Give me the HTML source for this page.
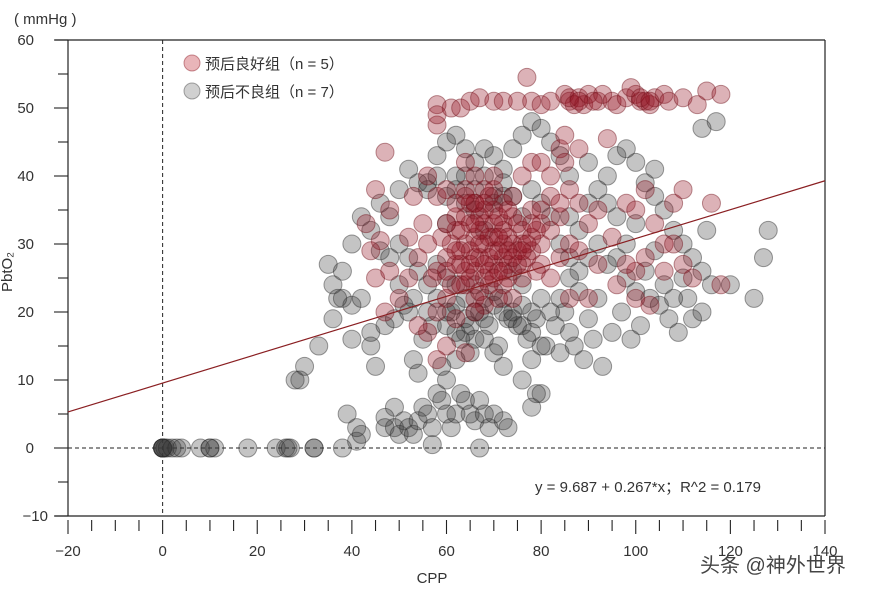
<!DOCTYPE html>
<html><head><meta charset="utf-8">
<style>
body{margin:0;background:#fff;width:873px;height:590px;overflow:hidden}
svg{display:block}
text{font-family:"Liberation Sans","Noto Sans CJK SC",sans-serif;fill:#333}
</style></head>
<body>
<svg id="chart" width="873" height="590">
<g id="frame">
<line x1="55" y1="40" x2="825" y2="40" stroke="#222" stroke-width="1.2"/>
<line x1="825" y1="40" x2="825" y2="516" stroke="#222" stroke-width="1.2"/>
<line x1="68" y1="40" x2="68" y2="516" stroke="#222" stroke-width="1.2"/>
<line x1="55" y1="516" x2="825" y2="516" stroke="#222" stroke-width="1.2"/>
</g>
<g id="ticks"></g>
<g id="refs"></g>
<g id="pts"></g>
<g id="fit"></g>
<text x="14" y="24" font-size="15">( mmHg )</text>
<text x="432" y="583" font-size="15" text-anchor="middle">CPP</text>
<text transform="translate(12,272) rotate(-90)" font-size="15" text-anchor="middle">PbtO₂</text>
<text x="535" y="492" font-size="15">y = 9.687 + 0.267*x；R^2 = 0.179</text>
<g>
<g>
<circle cx="192" cy="63" r="8" fill="rgba(200,70,80,0.4)" stroke="rgba(150,40,50,0.5)"/>
<text x="205" y="69" font-size="15">预后良好组（n = 5）</text></g>
<g>
<circle cx="192" cy="91" r="8" fill="rgba(120,120,120,0.35)" stroke="rgba(80,80,80,0.5)"/>
<text x="205" y="97" font-size="15">预后不良组（n = 7）</text></g>
</g>
<text x="700" y="572" font-size="20" style="fill:#444">头条 @神外世界</text>
</svg>
<script>
const xTicks=[-20,0,20,40,60,80,100,120,140];
const yTicks=[-10,0,10,20,30,40,50,60];
const fitIntercept=9.55, fitSlope=0.2125;
const redPts=[[58,47.5],[58,50.5],[61,50],[63,50],[65,51],[67,51.5],[70,51],[72,51],[75,51],[77,54.5],[78,51],[80,50.5],[82,51],[85,52],[86,51],[88,51.5],[89,50.5],[90,52],[92,51],[93,52],[95,51],[96,50.5],[98,51.5],[100,52],[101,51],[102,51],[103,50.5],[104,51.5],[106,52],[107,51],[110,51.5],[113,50.5],[115,52.5],[118,52],[94,45.5],[58,49],[87,50.5],[91,51],[99,53],[101,51.5],[103,51],[86,51.5],[88,51],
[45,38],[47,43.5],[46,30.5],[44,29],[43,33],[45,25],[48,26],[47,20],[50,22],[52,31],[48,35],[53,37],[55,33],[56,40],[58,37],[60,38],[62,34],[64,38],[66,36],[68,35],[70,38],[72,33],[74,37],[76,40],[78,42],[80,42],[82,40],[84,44],[85,42],[86,38],[88,36],[90,33],[92,35],[95,31],[98,36],[100,35],[102,38],[104,33],[106,30],[108,36],[110,38],[116,36],[118,24],[112,25],[103,21],[100,22],[96,24],[92,27],[90,22],[86,22],[84,28],[82,25],[80,30],[78,29],[76,27],[74,30],[72,28],[70,31],[68,30],[66,28],[64,30],[62,32],[60,28],[58,26],[56,30],[54,28],[52,25],[58,20],[60,22],[62,19],[64,24],[66,26],[68,25],[70,27],[72,24],[74,22],[76,25],[62,27],[64,26],[66,31],[68,33],[70,29],[72,30],[74,34],[76,32],[78,35],[80,33],[66,40],[64,42],[62,36],[68,38],[60,33],[70,35],[72,36],[76,30],[80,27],[82,32],[84,34],[86,30],[88,29],[66,22],[68,21],[60,15],[58,13],[64,14],[56,17],[54,18],[88,44],[85,46],[57,25],[67,28],[69,24],[63,29],[65,33],[71,26],[73,27],[75,29],[61,24],[59,31],[66,36],[64,34],[70,33],[72,32],[78,31],[77,28],[79,26],[82,37],[84,36],[108,30],[110,27],[106,26],[102,28],[100,26],[98,27],
[63,27],[65,29],[67,30],[69,28],[71,29],[73,31],[65,25],[67,23],[69,26],[71,22],[73,25],[75,27],[77,30],[79,32],[63,32],[65,36],[67,34],[69,37],[71,34],[73,35],[75,33],[61,30],[63,24],[66,20],[68,27],[70,25],[72,26],[74,28],[76,29],[78,33],[80,35],[67,32],[69,31],[65,27],[71,31],[73,29],[62,29],[60,26],[68,36],[70,40],[64,37],[66,33]];
const grayPts=[[0,0],[0,0],[0,0],[0,0],[0,0],[0.5,0],[1,0],[2,0],[3,0],[4,0],[8,0],[10,0],[10,0],[11,0],[18,0],[24,0],[26,0],[26.5,0],[27,0],[32,0],[32,0],[38,0],[41,1],[42,2],
[39,5],[41,3],[47,4.5],[47,3],[49,6],[49,3],[50,2],[51,4],[52,3],[53,2],[54,4],[55,6],[56,5],[57,3],[58,8],[59,7],[60,5],[61,3],[62,5],[63,8],[64,7],[65,5],[66,4],[67,7],[68,5],[69,3],[70,5],[72,4],[73,3],[60,10],[62,13],[65,14],[67,0],[57,0.5],[54,11],[53,13],[59,12],[45,12],[44,15],[40,16],[36,19],[33,15],[30,12],[28,10],[29,10],[35,27],[36,24],[38,22],[40,21],[42,22],[44,17],[47,18],[49,19],[51,21],[53,22],[55,16],[57,18],[61,20],[63,16],[65,18],[67,20],[69,18],[71,15],[73,19],[75,18],[77,16],[79,19],[81,15],[83,18],[85,20],[87,15],[89,13],[91,16],[93,12],[95,17],[97,20],[99,16],[101,18],[103,22],[105,21],[107,19],[109,17],[111,22],[114,20],[116,24],[127,28],[128,32],[125,22],[120,24],[80,8],[78,6],[76,10],[84,14],[86,17],[79,8],[46,29],[48,34],[50,38],[52,41],[54,39],[56,38],[58,43],[60,45],[62,46],[64,44],[66,42],[68,44],[70,43],[72,41],[74,44],[76,46],[78,48],[80,47],[82,45],[84,43],[86,40],[90,42],[94,40],[96,43],[100,42],[102,39],[104,37],[106,35],[108,32],[110,30],[112,28],[114,26],[115,32],[98,30],[96,34],[92,30],[90,28],[88,26],[86,25],[84,22],[82,20],[80,22],[78,20],[76,21],[74,20],[72,22],[70,23],[68,22],[66,24],[64,22],[62,24],[60,25],[58,22],[56,24],[54,26],[52,28],[50,30],[48,28],[44,32],[42,34],[40,30],[38,26],[37,22],[46,36],[60,33],[62,38],[64,40],[66,35],[68,32],[70,36],[72,39],[74,37],[76,34],[78,38],[80,36],[82,34],[84,30],[86,34],[88,32],[90,36],[92,38],[94,36],[96,28],[98,25],[100,23],[102,26],[104,29],[106,24],[108,22],[110,25],[112,19],[114,47],[117,48],[94,27],[92,22],[90,19],[88,23],[86,28],[80,15],[78,13],[72,12],[70,14],[66,16],[64,19],[52,20],[50,24],[58,27],[56,20],[60,18],[62,21],[74,26],[76,24],[100,33],[104,41],[98,44],
[56,39],[58,40],[60,37],[62,40],[64,36],[66,38],[68,40],[70,37],[72,37],[66,20],[68,19],[70,21],[72,20],[74,19],[64,17],[68,16],[76,18],[78,17],[62,17],[60,20]];

const NS="http://www.w3.org/2000/svg";
const sx=v=>68+(v+20)*(757/160);
const sy=v=>448-v*6.8;
function mk(tag,attrs,parent){const e=document.createElementNS(NS,tag);for(const k in attrs)e.setAttribute(k,attrs[k]);parent.appendChild(e);return e;}
const tg=document.getElementById('ticks');
for(let v=-20;v<=140;v+=5){
  const l=mk('line',{x1:sx(v),x2:sx(v),y1:520,y2:v%20===0?534:531,stroke:'#222','stroke-width':1.1},tg);
  
  
}
xTicks.forEach(v=>{
  const t=mk('text',{x:sx(v),y:556,'font-size':15,'text-anchor':'middle'},tg);
  t.textContent=v<0?'−'+Math.abs(v):v;
  
  
});
for(let v=-10;v<=60;v+=5){
  const l=mk('line',{x1:v%10===0?54:58,x2:68,y1:sy(v),y2:sy(v),stroke:'#222','stroke-width':1.1},tg);
  
  
}
yTicks.forEach(v=>{
  const t=mk('text',{x:v<0?48:34,y:sy(v)+5,'font-size':15,'text-anchor':'end'},tg);
  t.textContent=v<0?'−'+Math.abs(v):v;
  
  
});
const rg=document.getElementById('refs');
const h=mk('line',{x1:68,x2:825,y1:sy(0),y2:sy(0),stroke:'#222','stroke-dasharray':'4 3','stroke-width':1.1},rg);


const vv=mk('line',{x1:sx(0),x2:sx(0),y1:40,y2:516,stroke:'#222','stroke-dasharray':'4 3','stroke-width':1},rg);


const pg=document.getElementById('pts');
grayPts.forEach(p=>{
  const c=mk('circle',{cx:sx(p[0]),cy:sy(p[1]),r:9,fill:'rgba(60,60,60,0.3)',stroke:'rgba(40,40,40,0.45)','stroke-width':1},pg);
  
  
});
redPts.forEach(p=>{
  const c=mk('circle',{cx:sx(p[0]),cy:sy(p[1]),r:9,fill:'rgba(150,20,35,0.33)',stroke:'rgba(110,15,25,0.45)','stroke-width':1},pg);
  
  
});
const fg=document.getElementById('fit');
const fl=mk('line',{x1:sx(-20),y1:sy(fitIntercept+fitSlope*-20),x2:sx(140),y2:sy(fitIntercept+fitSlope*140),stroke:'#8a1f22','stroke-width':1.2},fg);


</script>
</body></html>
